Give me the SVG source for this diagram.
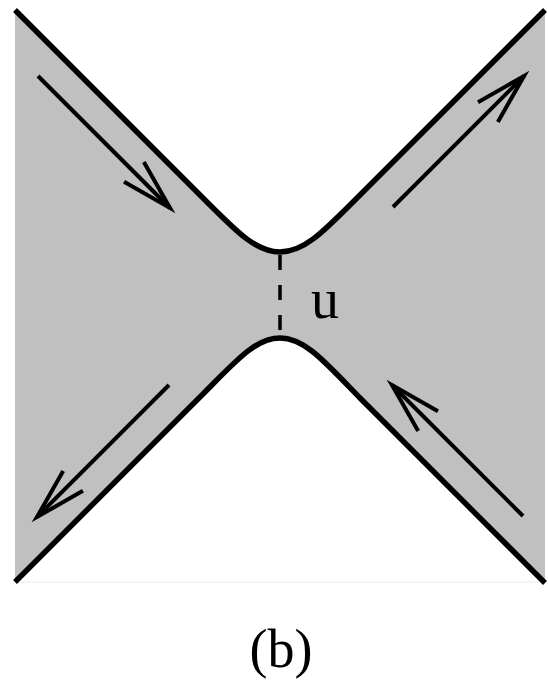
<svg xmlns="http://www.w3.org/2000/svg" width="548" height="681" viewBox="0 0 548 681">
<style>
.curve{fill:none;stroke:#000;stroke-width:5.5;stroke-linejoin:round}
.arr{fill:none;stroke:#000;stroke-width:4;marker-end:url(#head)}
.lbl{font-family:"Liberation Serif","Times New Roman",serif;fill:#000}
</style>
<defs>
<marker id="head" markerUnits="userSpaceOnUse" viewBox="-58 -20 62 40" markerWidth="62" markerHeight="40" refX="0" refY="0" orient="auto" overflow="visible">
<path d="M-51,-14 L0,0 L-51,14" fill="none" stroke="#000" stroke-width="4" stroke-linejoin="miter"/>
</marker>
</defs>
<rect width="548" height="681" fill="#fff"/>
<g id="region">
<path d="M15,10 L200,195 C235,230 255,252 280,252 C305,252 325,230 360,195 L545,10 L545,583 L360,398 C325,362 305,338 280,338 C255,338 235,362 200,397 L15,582 Z" fill="#c0c0c0"/>
<line x1="15" y1="582" x2="545" y2="582" stroke="#ebebeb" stroke-width="1"/>
</g>
<g id="upper-boundary">
<path class="curve" d="M15,10 L200,195 C235,230 255,252 280,252 C305,252 325,230 360,195 L545,10"/>
</g>
<g id="lower-boundary">
<path class="curve" d="M15,582 L200,397 C235,362 255,338 280,338 C305,338 325,362 360,398 L545,583"/>
</g>
<g id="cut">
<line x1="280" y1="252" x2="280" y2="338" stroke="#000" stroke-width="3.5" stroke-dasharray="15,15" stroke-dashoffset="-3"/>
<text class="lbl" x="325" y="318" font-size="56" text-anchor="middle">u</text>
</g>
<g id="connectors">
<line class="arr" x1="38" y1="76" x2="170" y2="208"/>
<line class="arr" x1="393" y1="207" x2="524" y2="76"/>
<line class="arr" x1="169" y1="385" x2="37" y2="517"/>
<line class="arr" x1="523" y1="516" x2="392" y2="385"/>
</g>
<g id="caption">
<text class="lbl" x="281" y="667" font-size="54" text-anchor="middle">(b)</text>
</g>
</svg>
